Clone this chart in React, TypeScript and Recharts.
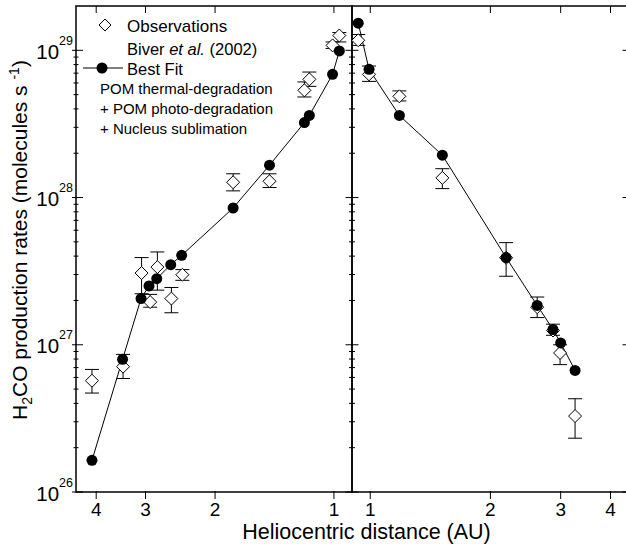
import React from 'react';
import { ComposedChart, Line, Scatter, XAxis, YAxis, ErrorBar, ReferenceArea } from 'recharts';

const FONT = '"Liberation Sans", Arial, Helvetica, sans-serif';

// ---- Pre-perihelion (left panel) ----
const preObsDist = [4.10, 3.42, 3.07, 2.92, 2.80, 2.58, 2.42, 1.80, 1.456, 1.188, 1.154, 1.008, 0.969];
const preObsQ = [5.7e26, 7.1e26, 3.07e27, 1.95e27, 3.37e27, 2.06e27, 2.99e27, 1.27e28, 1.29e28, 5.35e28, 6.35e28, 1.08e29, 1.26e29];
const preObsLow = [4.7e26, 5.9e26, 2.22e27, 1.80e27, 2.35e27, 1.65e27, 2.74e27, 1.11e28, 1.17e28, 4.82e28, 5.69e28, 1.03e29, 1.14e29];
const preObsHigh = [6.8e26, 8.6e26, 3.91e27, 2.20e27, 4.27e27, 2.45e27, 3.24e27, 1.45e28, 1.45e28, 6.1e28, 7.12e28, 1.14e29, 1.32e29];

const preFitDist = [4.10, 3.43, 3.08, 2.94, 2.81, 2.59, 2.43, 1.80, 1.456, 1.188, 1.154, 1.008, 0.969];
const preFitQ = [1.64e26, 7.96e26, 2.06e27, 2.51e27, 2.81e27, 3.50e27, 4.05e27, 8.49e27, 1.66e28, 3.23e28, 3.61e28, 6.87e28, 9.9e28];

// ---- Post-perihelion (right panel) ----
const postObsDist = [0.933, 0.993, 1.183, 1.516, 2.19, 2.62, 2.87, 2.99, 3.26];
const postObsQ = [1.17e29, 6.87e28, 4.87e28, 1.36e28, 3.9e27, 1.80e27, 1.25e27, 8.8e26, 3.28e26];
const postObsLow = [1.08e29, 6.15e28, 4.53e28, 1.15e28, 2.92e27, 1.53e27, 1.16e27, 7.33e26, 2.32e26];
const postObsHigh = [1.28e29, 7.82e28, 5.30e28, 1.57e28, 4.94e27, 2.11e27, 1.38e27, 1.0e27, 4.3e26];

const postFitDist = [0.933, 0.993, 1.183, 1.516, 2.19, 2.62, 2.87, 3.00, 3.26];
const postFitQ = [1.53e29, 7.43e28, 3.61e28, 1.94e28, 3.91e27, 1.85e27, 1.27e27, 1.03e27, 6.7e26];

// ---- Axes ----
const xTickValues = [1, 2, 3, 4];
const yTickValues = [
  1e26, 2e26, 3e26, 4e26, 5e26, 6e26, 7e26, 8e26, 9e26,
  1e27, 2e27, 3e27, 4e27, 5e27, 6e27, 7e27, 8e27, 9e27,
  1e28, 2e28, 3e28, 4e28, 5e28, 6e28, 7e28, 8e28, 9e28,
  1e29,
];
const yMajorTicks = [1e26, 1e27, 1e28, 1e29];
const xDomainLeft: [number, number] = [0.9, 4.5];
const xDomainRight: [number, number] = [0.9, 4.45];
const yDomain: [number, number] = [1e26, 2e29];

// layout
const TOP = 6;
const BOTTOM = 492;
const LEFT = 76;
const DIV = 352;
const RIGHT = 629;
const PH = BOTTOM - TOP;

const buildObs = (d: number[], q: number[], lo: number[], hi: number[]) =>
  d.map((v, i) => ({ d: v, q: q[i], err: [q[i] - lo[i], hi[i] - q[i]] }));
const buildFit = (d: number[], q: number[]) => d.map((v, i) => ({ d: v, q: q[i] }));

const preObs = buildObs(preObsDist, preObsQ, preObsLow, preObsHigh);
const postObs = buildObs(postObsDist, postObsQ, postObsLow, postObsHigh);
const preFit = buildFit(preFitDist, preFitQ);
const postFit = buildFit(postFitDist, postFitQ);

const isMajor = (v: number) => yMajorTicks.some((m) => Math.abs(v / m - 1) < 1e-6);

const makeYTick = (left: boolean, pw: number) => (props: any) => {
  const { x, y, payload } = props;
  const v = payload.value;
  const major = isMajor(v);
  const exp = Math.round(Math.log10(v));
  if (left) {
    return (
      <g>
        <line x1={x - (major ? 4 : 2.5)} x2={x + (major ? 7 : 2.5)} y1={y} y2={y} stroke="#000" strokeWidth={1} />
        <line x1={x + pw - (major ? 6.5 : 3)} x2={x + pw + (major ? 6.5 : 3)} y1={y} y2={y} stroke="#000" strokeWidth={1} />
        {major && (
          <text x={x - 3} y={y + 8.5} textAnchor="end" fontSize={20.5} fontFamily={FONT} fill="#000">
            10
            <tspan dy={-14} fontSize={12.5}>{exp}</tspan>
          </text>
        )}
      </g>
    );
  }
  return (
    <g>
      {major && <line x1={x + pw - 6.5} x2={x + pw} y1={y} y2={y} stroke="#000" strokeWidth={1} />}
    </g>
  );
};

const XTick = (props: any) => {
  const { x, y, payload } = props;
  return (
    <g>
      <line x1={x} x2={x} y1={y - 1} y2={y + 7} stroke="#000" strokeWidth={1} />
      <line x1={x} x2={x} y1={y - PH} y2={y - PH + 7} stroke="#000" strokeWidth={1} />
      <text x={x} y={y + 24} textAnchor="middle" fontSize={19} fontFamily={FONT} fill="#000">
        {payload.value}
      </text>
    </g>
  );
};

const Diamond = (props: any) => {
  const { cx, cy } = props;
  const s = 6.5;
  return (
    <path
      d={`M${cx},${cy - s}L${cx + s},${cy}L${cx},${cy + s}L${cx - s},${cy}Z`}
      fill="#fff"
      stroke="#000"
      strokeWidth={1}
    />
  );
};

function Panel({ left }: { left: boolean }) {
  const width = left ? 626 : 640;
  const margin = left
    ? { top: TOP, right: 626 - DIV, bottom: 544 - BOTTOM - 1, left: LEFT - 1 }
    : { top: TOP, right: 640 - RIGHT, bottom: 544 - BOTTOM - 1, left: DIV - 1 };
  const pw = left ? DIV - LEFT : RIGHT - DIV;
  const obs = left ? preObs : postObs;
  const fit = left ? preFit : postFit;
  const xDomain = left ? xDomainLeft : xDomainRight;
  return (
    <div style={{ position: 'absolute', left: 0, top: 0 }}>
      <ComposedChart width={width} height={544} margin={margin}>
        <XAxis
          dataKey="d"
          type="number"
          scale="log"
          domain={xDomain}
          allowDataOverflow
          reversed={left}
          ticks={xTickValues}
          interval={0}
          height={1}
          tickSize={0}
          tickMargin={0}
          axisLine={false}
          tickLine={false}
          tick={XTick}
        />
        <YAxis
          dataKey="q"
          type="number"
          scale="log"
          domain={yDomain}
          allowDataOverflow
          ticks={yTickValues}
          interval={0}
          width={1}
          tickSize={0}
          tickMargin={0}
          axisLine={false}
          tickLine={false}
          tick={makeYTick(left, pw)}
        />
        <ReferenceArea
          x1={xDomain[0]}
          x2={xDomain[1]}
          y1={yDomain[0]}
          y2={yDomain[1]}
          fill="none"
          fillOpacity={0}
          stroke="#000"
          strokeWidth={1.5}
          ifOverflow="visible"
        />
        <Scatter data={obs} dataKey="q" shape={Diamond} isAnimationActive={false}>
          <ErrorBar dataKey="err" direction="y" width={7} stroke="#000" strokeWidth={1} isAnimationActive={false} />
        </Scatter>
        <Line
          data={fit}
          dataKey="q"
          stroke="#000"
          strokeWidth={1}
          dot={{ r: 5.5, fill: '#000', stroke: 'none' }}
          activeDot={false}
          isAnimationActive={false}
        />
      </ComposedChart>
    </div>
  );
}

export default function App() {
  return (
    <div
      style={{
        position: 'absolute',
        left: 0,
        top: 0,
        width: 626,
        height: 544,
        overflow: 'hidden',
        background: '#fff',
        fontFamily: FONT,
      }}
    >
      <Panel left={true} />
      <Panel left={false} />
      <svg width={626} height={544} style={{ position: 'absolute', left: 0, top: 0, pointerEvents: 'none' }}>
        {/* Legend */}
        <path d="M105,19 L111,25 L105,31 L99,25 Z" fill="#fff" stroke="#000" strokeWidth={1} />
        <text x={127} y={31.5} fontSize={17} fontFamily={FONT} fill="#000">Observations</text>
        <text x={127} y={54.5} fontSize={16.5} fontFamily={FONT} fill="#000">
          {'Biver '}
          <tspan fontStyle="italic">et al.</tspan>
          {' (2002)'}
        </text>
        <line x1={83} x2={123} y1={68} y2={68} stroke="#000" strokeWidth={1} />
        <circle cx={102} cy={68} r={5.5} fill="#000" />
        <text x={127} y={75} fontSize={16.5} fontFamily={FONT} fill="#000">Best Fit</text>
        <text x={100} y={94} fontSize={15} fontFamily={FONT} fill="#000">POM thermal-degradation</text>
        <text x={100} y={113.5} fontSize={15} fontFamily={FONT} fill="#000">+ POM photo-degradation</text>
        <text x={100} y={133.5} fontSize={15} fontFamily={FONT} fill="#000">+ Nucleus sublimation</text>

        {/* Axis titles */}
        <text x={366.5} y={538.5} textAnchor="middle" fontSize={21.5} fontFamily={FONT} fill="#000">
          Heliocentric distance (AU)
        </text>
        <text transform="translate(27,420) rotate(-90)" textAnchor="start" fontSize={21} fontFamily={FONT} fill="#000">
          H
          <tspan dy={5} fontSize={14}>2</tspan>
          <tspan dy={-5}>{'CO production rates (molecules s '}</tspan>
          <tspan dy={-8} fontSize={14}>-1</tspan>
          <tspan dy={8}>)</tspan>
        </text>
      </svg>
    </div>
  );
}
